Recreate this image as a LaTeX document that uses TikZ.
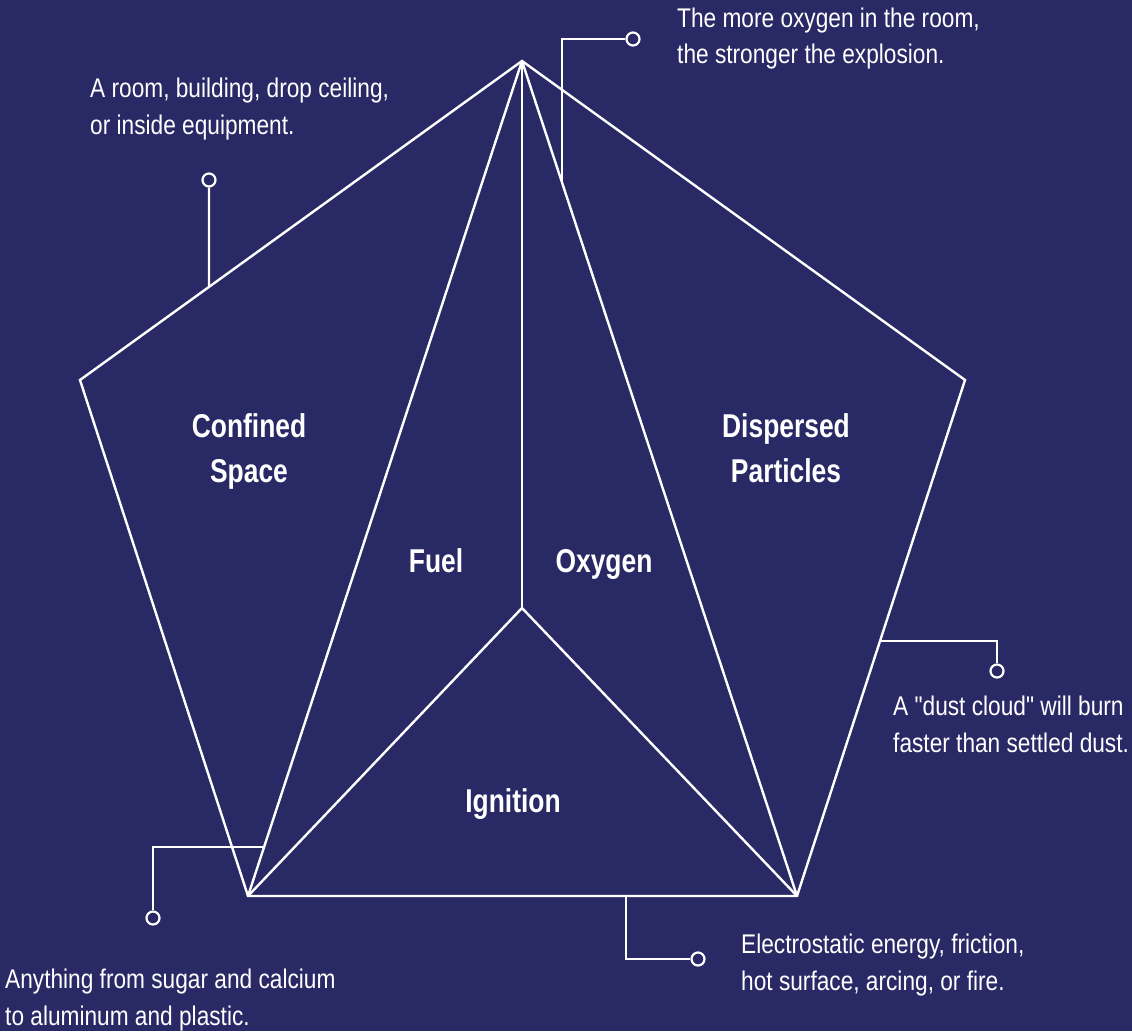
\documentclass[tikz,border=0pt]{standalone}
\usepackage{fontspec}
\usetikzlibrary{calc}
\newfontfamily\notefont{Liberation Sans}[FakeStretch=0.84]
\newfontfamily\titlefont{Liberation Sans}[FakeStretch=0.80]
\definecolor{bg}{RGB}{41,41,102}
\tikzset{
  edge/.style={draw=white, line width=2.4pt, line join=miter},
  lead/.style={draw=white, line width=2.2pt},
  pin/.style={circle, draw=white, line width=2.2pt, fill=bg, minimum size=13pt, inner sep=0pt},
  note/.style={text=white, inner sep=0pt, anchor=base west, font=\notefont\fontsize{27}{32}\selectfont},
  title/.style={text=white, inner sep=0pt, anchor=base, font=\titlefont\bfseries\fontsize{33}{38}\selectfont}
}
\begin{document}
\begin{tikzpicture}[x=1pt,y=-1pt]
\fill[bg] (0,0) rectangle (1132,1031);
\useasboundingbox (0,0) rectangle (1132,1031);
% vertices
\coordinate (A) at (522,61);
\coordinate (L) at (80,380);
\coordinate (R) at (965,380);
\coordinate (BL) at (248,896);
\coordinate (BR) at (797,896);
\coordinate (C) at (522,608);
% pentagon and inner lines
\draw[edge] (A) -- (L) -- (BL) -- (BR) -- (R) -- cycle;
\draw[edge] (A) -- (BL);
\draw[edge] (A) -- (BR);
\draw[edge] (A) -- (C);
\draw[edge] (BL) -- (C) -- (BR);
% callout anchor points
\coordinate (t1) at ($(A)!0.1449!(BR)$);
\coordinate (t2) at ($(A)!0.708!(L)$);
\coordinate (t3) at ($(R)!0.506!(BR)$);
\coordinate (t4) at ($(A)!0.9413!(BL)$);
\coordinate (t5) at (626,896);
% pins
\node[pin] (p1) at (633,39) {};
\node[pin] (p2) at (209,180) {};
\node[pin] (p3) at (997,671) {};
\node[pin] (p4) at (153,918) {};
\node[pin] (p5) at (698,959) {};
% leaders
\draw[lead] (t1) |- (p1);
\draw[lead] (t2) -- (p2);
\draw[lead] (t3) -| (p3);
\draw[lead] (t4) -| (p4);
\draw[lead] (t5) |- (p5);
% notes
\node[note] (n1a) at (677,27) {The more oxygen in the room,};
\node[note] (n1b) at (677,63) {the stronger the explosion.};
\node[note] (n2a) at (90,97) {A room, building, drop ceiling,};
\node[note] (n2b) at (90,134) {or inside equipment.};
\node[note] (n3a) at (893,715) {A "dust cloud" will burn};
\node[note] (n3b) at (893,752) {faster than settled dust.};
\node[note] (n4a) at (5,988) {Anything from sugar and calcium};
\node[note] (n4b) at (5,1025) {to aluminum and plastic.};
\node[note] (n5a) at (741,953) {Electrostatic energy, friction,};
\node[note] (n5b) at (741,990) {hot surface, arcing, or fire.};
% titles
\node[title] (cs1) at (249,437) {Confined};
\node[title] (cs2) at (249,482) {Space};
\node[title] (dp1) at (786,437) {Dispersed};
\node[title] (dp2) at (786,482) {Particles};
\node[title] (fu) at (436,572) {Fuel};
\node[title] (ox) at (604,572) {Oxygen};
\node[title] (ig) at (513,812) {Ignition};
\end{tikzpicture}
\end{document}
